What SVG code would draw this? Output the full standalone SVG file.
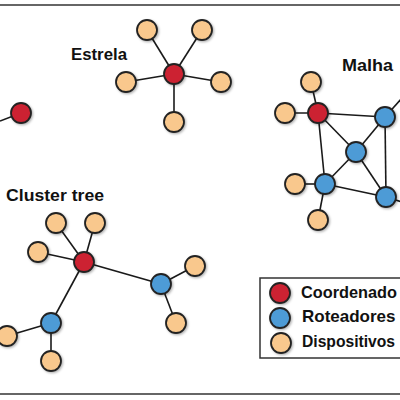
<svg xmlns="http://www.w3.org/2000/svg" width="400" height="400" viewBox="0 0 400 400">
<style>
.edge{stroke:#1a1a1a;stroke-width:1.6;fill:none}
.n{stroke:#222;stroke-width:1.8;filter:url(#sh)}
.coord{fill:#cc2331}
.rot{fill:#4e9bd6}
.dev{fill:#f9c88d}
.lbl{font-family:"Liberation Sans",Arial,sans-serif;font-weight:bold;fill:#111}
.frame{stroke:#333;stroke-width:1.5}
</style>
<defs>
<filter id="sh" x="-50%" y="-50%" width="200%" height="200%">
<feDropShadow dx="1.2" dy="1.2" stdDeviation="0.8" flood-color="#000" flood-opacity="0.3"/>
</filter>
</defs>
<rect width="400" height="400" fill="#fff"/>
<line class="frame" x1="0" y1="5" x2="400" y2="5"/>
<line class="frame" x1="0" y1="394" x2="400" y2="394"/>

<g id="connectors">
<line class="edge" x1="0" y1="121" x2="21" y2="113"/>
<line class="edge" x1="174" y1="74" x2="147" y2="30"/>
<line class="edge" x1="174" y1="74" x2="202" y2="30"/>
<line class="edge" x1="174" y1="74" x2="126" y2="82"/>
<line class="edge" x1="174" y1="74" x2="221" y2="82"/>
<line class="edge" x1="174" y1="74" x2="174" y2="122"/>
<line class="edge" x1="318" y1="113" x2="311" y2="82"/>
<line class="edge" x1="318" y1="113" x2="285" y2="113"/>
<line class="edge" x1="318" y1="113" x2="385" y2="117"/>
<line class="edge" x1="318" y1="113" x2="356" y2="152"/>
<line class="edge" x1="318" y1="113" x2="325" y2="184"/>
<line class="edge" x1="385" y1="117" x2="356" y2="152"/>
<line class="edge" x1="385" y1="117" x2="386" y2="197"/>
<line class="edge" x1="385" y1="117" x2="402" y2="98"/>
<line class="edge" x1="356" y1="152" x2="325" y2="184"/>
<line class="edge" x1="356" y1="152" x2="386" y2="197"/>
<line class="edge" x1="325" y1="184" x2="386" y2="197"/>
<line class="edge" x1="386" y1="197" x2="402" y2="202"/>
<line class="edge" x1="325" y1="184" x2="295" y2="184"/>
<line class="edge" x1="325" y1="184" x2="318" y2="220"/>
<line class="edge" x1="84" y1="262" x2="56" y2="223"/>
<line class="edge" x1="84" y1="262" x2="95" y2="223"/>
<line class="edge" x1="84" y1="262" x2="38" y2="252"/>
<line class="edge" x1="84" y1="262" x2="161" y2="284"/>
<line class="edge" x1="84" y1="262" x2="51" y2="323"/>
<line class="edge" x1="161" y1="284" x2="195" y2="266"/>
<line class="edge" x1="161" y1="284" x2="176" y2="323"/>
<line class="edge" x1="51" y1="323" x2="7" y2="336"/>
<line class="edge" x1="51" y1="323" x2="51" y2="361"/>
</g>

<g id="left-coordinator"><circle class="n coord" cx="21" cy="113" r="10"/></g>

<g id="estrela">
<text class="lbl" x="71" y="60" font-size="16.5" textLength="56" lengthAdjust="spacingAndGlyphs">Estrela</text>
<g id="star-coord"><circle class="n coord" cx="174" cy="74" r="10"/></g>
<g id="star-d1"><circle class="n dev" cx="147" cy="30" r="10"/></g>
<g id="star-d2"><circle class="n dev" cx="202" cy="30" r="10"/></g>
<g id="star-d3"><circle class="n dev" cx="126" cy="82" r="10"/></g>
<g id="star-d4"><circle class="n dev" cx="221" cy="82" r="10"/></g>
<g id="star-d5"><circle class="n dev" cx="174" cy="122" r="10"/></g>
</g>

<g id="malha">
<text class="lbl" x="342" y="71" font-size="16.5" textLength="51" lengthAdjust="spacingAndGlyphs">Malha</text>
<g id="mesh-d1"><circle class="n dev" cx="311" cy="82" r="10"/></g>
<g id="mesh-d2"><circle class="n dev" cx="285" cy="113" r="10"/></g>
<g id="mesh-d3"><circle class="n dev" cx="295" cy="184" r="10"/></g>
<g id="mesh-d4"><circle class="n dev" cx="318" cy="220" r="10"/></g>
<g id="mesh-coord"><circle class="n coord" cx="318" cy="113" r="10"/></g>
<g id="mesh-r1"><circle class="n rot" cx="385" cy="117" r="10"/></g>
<g id="mesh-r2"><circle class="n rot" cx="356" cy="152" r="10"/></g>
<g id="mesh-r3"><circle class="n rot" cx="325" cy="184" r="10"/></g>
<g id="mesh-r4"><circle class="n rot" cx="386" cy="197" r="10"/></g>
</g>

<g id="cluster-tree">
<text class="lbl" x="6" y="201" font-size="17" textLength="98" lengthAdjust="spacingAndGlyphs">Cluster tree</text>
<g id="ct-d1"><circle class="n dev" cx="56" cy="223" r="10"/></g>
<g id="ct-d2"><circle class="n dev" cx="95" cy="223" r="10"/></g>
<g id="ct-d3"><circle class="n dev" cx="38" cy="252" r="10"/></g>
<g id="ct-d4"><circle class="n dev" cx="195" cy="266" r="10"/></g>
<g id="ct-d5"><circle class="n dev" cx="176" cy="323" r="10"/></g>
<g id="ct-d6"><circle class="n dev" cx="7" cy="336" r="10"/></g>
<g id="ct-d7"><circle class="n dev" cx="51" cy="361" r="10"/></g>
<g id="ct-coord"><circle class="n coord" cx="84" cy="262" r="10"/></g>
<g id="ct-r1"><circle class="n rot" cx="161" cy="284" r="10"/></g>
<g id="ct-r2"><circle class="n rot" cx="51" cy="323" r="10"/></g>
</g>

<g id="legend">
<rect x="260" y="278" width="160" height="80" fill="#fff" stroke="#333" stroke-width="1.5"/>
<circle class="n coord" cx="280" cy="293" r="10"/>
<circle class="n rot" cx="280" cy="318" r="10"/>
<circle class="n dev" cx="281" cy="343" r="10"/>
<text class="lbl" x="301" y="298" font-size="17" textLength="96" lengthAdjust="spacingAndGlyphs">Coordenado</text>
<text class="lbl" x="302" y="322" font-size="17">Roteadores</text>
<text class="lbl" x="302" y="347" font-size="16" textLength="93" lengthAdjust="spacingAndGlyphs">Dispositivos</text>
</g>
</svg>
